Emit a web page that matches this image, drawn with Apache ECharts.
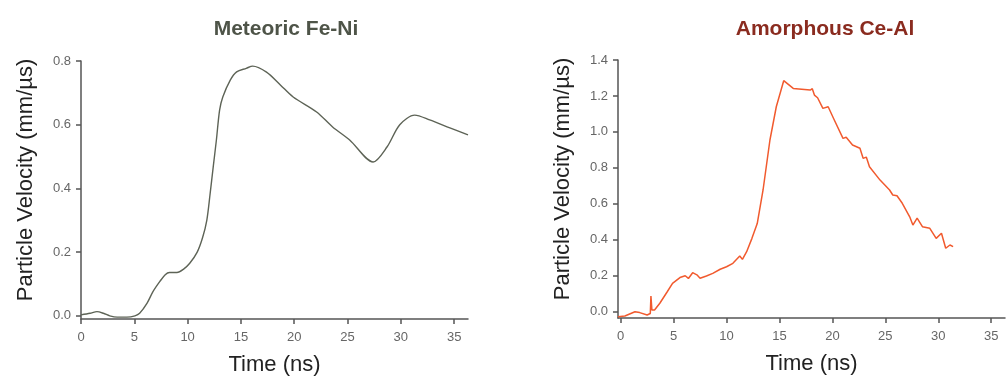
<!DOCTYPE html>
<html>
<head>
<meta charset="utf-8">
<script src="https://cdn.jsdelivr.net/npm/echarts@6/dist/echarts.min.js"></script>
<style>
  html, body { margin: 0; padding: 0; background: #fff; }
  #chart { width: 1007px; height: 379px; }
</style>
</head>
<body>
<div id="chart"></div>
<script>
// 时间 (ns) / 粒子速度 (mm/µs)
const feniTime = [0, 0.85, 1.5, 2.1, 2.7, 3.4, 4.3, 5.06, 5.5, 6.2, 6.75, 7.4, 7.9, 8.3, 9.0, 9.6, 10.2, 10.9, 11.4, 11.8, 12.1, 12.4, 12.7, 13.0, 13.3, 14.0, 14.6, 15.5, 16.1, 17.4, 18.7, 19.9, 22.1, 23.6, 25.2, 27.4, 28.7, 29.9, 31.3, 32.7, 34.6, 36.3];
const feniVel = [0.003, 0.008, 0.013, 0.008, 0.0, -0.004, -0.004, 0.0, 0.008, 0.04, 0.076, 0.108, 0.129, 0.136, 0.136, 0.146, 0.165, 0.2, 0.245, 0.3, 0.38, 0.467, 0.552, 0.646, 0.687, 0.74, 0.766, 0.777, 0.784, 0.765, 0.725, 0.687, 0.64, 0.593, 0.552, 0.483, 0.53, 0.6, 0.63, 0.615, 0.59, 0.568];

const ceAlTime = [-0.25, 0.4, 1.35, 1.8, 2.5, 2.8, 2.86, 2.95, 3.2, 3.7, 4.4, 4.9, 5.6, 6.1, 6.4, 6.8, 7.2, 7.5, 8.1, 8.7, 9.4, 10.0, 10.6, 11.25, 11.5, 11.9, 12.4, 12.9, 13.45, 14.1, 14.7, 15.4, 16.3, 17.9, 18.1, 18.3, 18.6, 19.1, 19.6, 20.1, 21.0, 21.3, 21.9, 22.6, 22.9, 23.2, 23.5, 24.5, 25.4, 25.7, 26.1, 26.6, 27.3, 27.6, 28.0, 28.5, 29.2, 29.8, 30.3, 30.7, 31.1, 31.4];
const ceAlVel = [-0.028, -0.024, 0.0, -0.005, -0.018, -0.01, 0.087, 0.01, 0.01, 0.047, 0.111, 0.158, 0.19, 0.2, 0.185, 0.217, 0.205, 0.186, 0.199, 0.213, 0.236, 0.25, 0.269, 0.31, 0.291, 0.334, 0.408, 0.49, 0.677, 0.955, 1.14, 1.285, 1.242, 1.233, 1.24, 1.205, 1.19, 1.131, 1.14, 1.076, 0.964, 0.97, 0.927, 0.909, 0.853, 0.86, 0.806, 0.732, 0.677, 0.649, 0.645, 0.603, 0.528, 0.482, 0.52, 0.473, 0.464, 0.408, 0.436, 0.353, 0.371, 0.362];

const timeTicks = [0, 5, 10, 15, 20, 25, 30, 35];
const feniTicks = [0, 0.2, 0.4, 0.6, 0.8];
const ceAlTicks = [0, 0.2, 0.4, 0.6, 0.8, 1.0, 1.2, 1.4];

const chart = echarts.init(document.getElementById("chart"));
const font = "Liberation Sans";
const axisColor = "#555";

const xAxisBase = (gridIndex, min) => ({
  type: "value",
  gridIndex: gridIndex,
  min: min,
  max: 36.3,
  name: "Time (ns)",
  nameLocation: "middle",
  nameGap: 35,
  nameTextStyle: { fontFamily: font, fontSize: 22, color: "#222" },
  splitLine: { show: false },
  axisLine: { show: true, onZero: false, lineStyle: { color: axisColor, width: 1.5 } },
  axisTick: { show: true, length: 5, customValues: timeTicks, lineStyle: { color: axisColor, width: 1.5 } },
  axisLabel: { customValues: timeTicks, margin: 12, fontFamily: font, fontSize: 13, color: "#666" },
});

const yAxisBase = (gridIndex, min, max, ticks) => ({
  type: "value",
  gridIndex: gridIndex,
  min: min,
  max: max,
  name: "Particle Velocity (mm/µs)",
  nameLocation: "middle",
  nameGap: 44,
  nameTextStyle: { fontFamily: font, fontSize: 22, color: "#222", padding: [0, 0, 0, 20] },
  splitLine: { show: false },
  axisLine: { show: true, onZero: false, lineStyle: { color: axisColor, width: 1.5 } },
  axisTick: { show: true, length: 5, customValues: ticks, lineStyle: { color: axisColor, width: 1.5 } },
  axisLabel: { customValues: ticks, margin: 10, fontFamily: font, fontSize: 13, color: "#666", formatter: (v) => v.toFixed(1) },
});

const option = {
  backgroundColor: "#fff",
  animation: false,
  title: [
    {
      text: "Meteoric Fe-Ni",
      left: 281, top: 14, textAlign: "center",
      textStyle: { fontFamily: font, fontSize: 21, fontWeight: "bold", color: "#4e5448" },
    },
    {
      text: "Amorphous Ce-Al",
      left: 820, top: 14, textAlign: "center",
      textStyle: { fontFamily: font, fontSize: 21, fontWeight: "bold", color: "#8a2b1f" },
    },
  ],
  // 固定绘图区，不随轴名自动收缩
  grid: [
    { left: 81, top: 61, width: 387, height: 258, outerBoundsMode: "none" },
    { left: 618, top: 60, width: 387, height: 258, outerBoundsMode: "none" },
  ],
  xAxis: [xAxisBase(0, 0), xAxisBase(1, -0.25)],
  yAxis: [yAxisBase(0, -0.01, 0.8, feniTicks), yAxisBase(1, -0.035, 1.4, ceAlTicks)],
  series: [
    {
      type: "line",
      xAxisIndex: 0, yAxisIndex: 0,
      data: feniTime.map((t, i) => [t, feniVel[i]]),
      smooth: 0.3,
      showSymbol: false,
      lineStyle: { color: "#5d6356", width: 1.4 },
    },
    {
      type: "line",
      xAxisIndex: 1, yAxisIndex: 1,
      data: ceAlTime.map((t, i) => [t, ceAlVel[i]]),
      showSymbol: false,
      lineStyle: { color: "#f15a2e", width: 1.5 },
    },
  ],
};
chart.setOption(option);
</script>
</body>
</html>
